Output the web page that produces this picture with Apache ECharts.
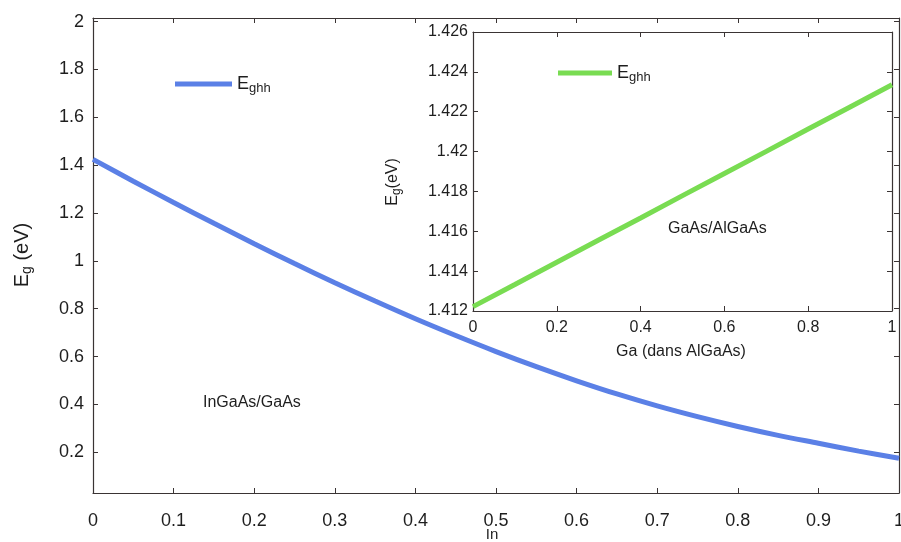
<!DOCTYPE html>
<html>
<head>
<meta charset="utf-8">
<script src="https://cdn.jsdelivr.net/npm/echarts@6/dist/echarts.min.js"></script>
<style>
  html, body { margin: 0; padding: 0; background: #fff; }
  #chart { width: 901px; height: 542px; }
</style>
</head>
<body>
<div id="chart"></div>
<script>
// Band gap of heavy-hole transition vs In fraction (InGaAs/GaAs)
const inFraction = [0, 0.05, 0.1, 0.15, 0.2, 0.25, 0.3, 0.35, 0.4, 0.45, 0.5,
                    0.55, 0.6, 0.65, 0.7, 0.75, 0.8, 0.85, 0.9, 0.95, 1];
const egInGaAs = [1.424, 1.333, 1.244, 1.157, 1.072, 0.989, 0.909, 0.832, 0.758, 0.688, 0.621,
                  0.558, 0.499, 0.444, 0.394, 0.349, 0.308, 0.271, 0.238, 0.205, 0.175];

// Inset: band gap vs Ga fraction in AlGaAs (GaAs/AlGaAs)
const gaFraction = [0, 0.1, 0.2, 0.3, 0.4, 0.5, 0.6, 0.7, 0.8, 0.9, 1];
const egGaAs = [1.41222, 1.41333, 1.41445, 1.41556, 1.41667, 1.41779,
                1.4189, 1.42001, 1.42113, 1.42224, 1.42335];

// Tick labels
const mainYTicks = [0.2, 0.4, 0.6, 0.8, 1.0, 1.2, 1.4, 1.6, 1.8, 2.0];

const FONT = "'Liberation Sans', Arial, sans-serif";
const TXT = '#1e1e1e';
const AX = '#3a3434';

const fmt = v => String(+v.toFixed(3));

function axisBase(extra) {
  return Object.assign({
    type: 'value',
    axisLine: { show: true, onZero: false, lineStyle: { color: AX, width: 1.2 } },
    axisTick: { show: true, inside: true, length: 5, lineStyle: { color: AX } },
    splitLine: { show: false },
    axisLabel: { color: TXT, fontFamily: FONT }
  }, extra);
}
function mirror(extra) {
  const a = axisBase(extra);
  a.axisLabel = { show: false };
  return a;
}

const rich = {
  e: { fontSize: 18, fontFamily: FONT, color: TXT },
  s: { fontSize: 13, fontFamily: FONT, color: TXT, padding: [9, 0, 0, 0] }
};

const option = {
  backgroundColor: '#fff',
  animation: false,
  grid: [
    { left: 93, top: 18, right: 2, bottom: 49, containLabel: false, outerBoundsMode: 'none' },
    { left: 473, top: 32, right: 9, bottom: 231, containLabel: false, outerBoundsMode: 'none',
      show: true, backgroundColor: '#fff', borderWidth: 0, z: 5 }
  ],
  xAxis: [
    axisBase({ gridIndex: 0, position: 'bottom', min: 0, max: 1, interval: 0.1,
      axisLabel: { color: TXT, fontFamily: FONT, fontSize: 18, margin: 19, formatter: fmt } }),
    mirror({ gridIndex: 0, position: 'top', min: 0, max: 1, interval: 0.1 }),
    axisBase({ gridIndex: 1, position: 'bottom', min: 0, max: 1, interval: 0.2, z: 6,
      axisLabel: { color: TXT, fontFamily: FONT, fontSize: 16, margin: 9, formatter: fmt } }),
    mirror({ gridIndex: 1, position: 'top', min: 0, max: 1, interval: 0.2, z: 6 })
  ],
  yAxis: [
    axisBase({ gridIndex: 0, position: 'left', min: 0.03, max: 2.015,
      axisTick: { show: true, inside: true, length: 5, lineStyle: { color: AX }, customValues: mainYTicks },
      axisLabel: { color: TXT, fontFamily: FONT, fontSize: 18, margin: 9, formatter: fmt, customValues: mainYTicks } }),
    mirror({ gridIndex: 0, position: 'right', min: 0.03, max: 2.015,
      axisTick: { show: true, inside: true, length: 5, lineStyle: { color: AX }, customValues: mainYTicks } }),
    axisBase({ gridIndex: 1, position: 'left', min: 1.412, max: 1.426, interval: 0.002, z: 6,
      axisLabel: { color: TXT, fontFamily: FONT, fontSize: 16, margin: 5, formatter: fmt } }),
    mirror({ gridIndex: 1, position: 'right', min: 1.412, max: 1.426, interval: 0.002, z: 6 })
  ],
  legend: [
    { data: ['Eghh-InGaAs'], left: 175, top: 75, padding: 0, icon: 'rect',
      itemWidth: 57, itemHeight: 5, selectedMode: false,
      formatter: () => '{e|E}{s|ghh}', textStyle: { rich } },
    { data: ['Eghh-GaAs'], left: 558, top: 64, padding: 0, icon: 'rect',
      itemWidth: 54, itemHeight: 5, selectedMode: false, z: 8,
      formatter: () => '{e|E}{s|ghh}', textStyle: { rich } }
  ],
  series: [
    { name: 'Eghh-InGaAs', type: 'line', xAxisIndex: 0, yAxisIndex: 0,
      data: inFraction.map((x, i) => [x, egInGaAs[i]]),
      showSymbol: false, smooth: 0.3, color: '#5b80e6',
      lineStyle: { width: 5, color: '#5b80e6' } },
    { name: 'Eghh-GaAs', type: 'line', xAxisIndex: 2, yAxisIndex: 2, z: 7,
      data: gaFraction.map((x, i) => [x, egGaAs[i]]),
      showSymbol: false, color: '#79dc52',
      lineStyle: { width: 5, color: '#79dc52' } }
  ],
  graphic: [
    { type: 'text', x: 22, y: 255, rotation: Math.PI / 2, z: 10,
      style: { text: '{e|E}{s|g}{e| (eV)}', align: 'center', verticalAlign: 'middle',
        rich: { e: { fontSize: 20, fontFamily: FONT, fill: TXT },
                s: { fontSize: 14, fontFamily: FONT, fill: TXT, padding: [10, 0, 0, 0] } } } },
    { type: 'text', x: 492, y: 535, z: 10,
      style: { text: 'In', fontSize: 15, fontFamily: FONT, fill: TXT, align: 'center', verticalAlign: 'middle' } },
    { type: 'text', x: 393, y: 182, rotation: Math.PI / 2, z: 10,
      style: { text: '{e|E}{s|g}{e|(eV)}', align: 'center', verticalAlign: 'middle',
        rich: { e: { fontSize: 16, fontFamily: FONT, fill: TXT },
                s: { fontSize: 12, fontFamily: FONT, fill: TXT, padding: [7, 0, 0, 0] } } } },
    { type: 'text', x: 681, y: 352, z: 10,
      style: { text: 'Ga (dans AlGaAs)', fontSize: 16, fontFamily: FONT, fill: TXT, align: 'center', verticalAlign: 'middle' } },
    { type: 'text', x: 203, y: 403, z: 10,
      style: { text: 'InGaAs/GaAs', fontSize: 16, fontFamily: FONT, fill: TXT, align: 'left', verticalAlign: 'middle' } },
    { type: 'text', x: 668, y: 229, z: 10,
      style: { text: 'GaAs/AlGaAs', fontSize: 16, fontFamily: FONT, fill: TXT, align: 'left', verticalAlign: 'middle' } }
  ]
};

const chart = echarts.init(document.getElementById('chart'), null, { renderer: 'canvas' });
chart.setOption(option);
</script>
</body>
</html>
